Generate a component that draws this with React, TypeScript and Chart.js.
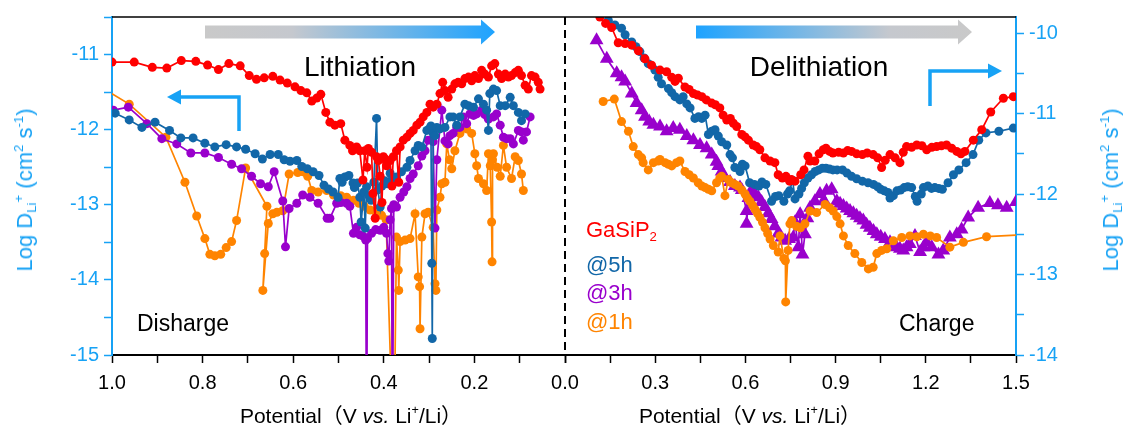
import React, { useEffect, useRef } from 'react';
import { Chart, registerables } from 'chart.js';

Chart.register(...registerables);

// ---------------- DATA (potential V, log D) ----------------
// Discharge (lithiation) panel
const dischargeGaSiP2: [number, number][] = [
  [1.0, -11.1], [0.951, -11.1], [0.911, -11.17], [0.879, -11.18], [0.847, -11.08], [0.815, -11.09], [0.789, -11.14],
  [0.765, -11.2], [0.742, -11.12], [0.717, -11.15], [0.697, -11.28], [0.681, -11.33], [0.664, -11.31], [0.645, -11.29],
  [0.629, -11.34], [0.613, -11.38], [0.596, -11.43], [0.583, -11.48], [0.57, -11.51], [0.559, -11.62], [0.548, -11.58],
  [0.539, -11.53], [0.528, -11.77], [0.519, -11.9], [0.508, -11.94], [0.495, -11.92], [0.486, -12.14], [0.475, -12.21],
  [0.469, -12.28], [0.46, -12.23], [0.453, -12.28], [0.446, -12.67], [0.442, -12.28], [0.437, -12.5], [0.434, -12.25],
  [0.427, -12.3], [0.424, -12.85], [0.419, -13.18], [0.416, -12.36], [0.412, -12.41], [0.408, -12.62], [0.404, -12.97],
  [0.401, -12.36], [0.397, -12.39], [0.394, -12.48], [0.386, -12.41], [0.382, -12.75], [0.379, -12.36], [0.372, -12.28],
  [0.367, -12.7], [0.364, -12.23], [0.357, -12.14], [0.349, -12.1], [0.342, -12.05], [0.335, -12.01], [0.327, -11.94],
  [0.32, -11.9], [0.313, -11.83], [0.305, -11.77], [0.298, -11.66], [0.291, -11.7], [0.283, -11.66], [0.276, -11.52],
  [0.27, -11.37], [0.265, -11.48], [0.258, -11.57], [0.25, -11.46], [0.243, -11.39], [0.236, -11.37], [0.228, -11.39],
  [0.221, -11.32], [0.213, -11.3], [0.206, -11.35], [0.199, -11.28], [0.191, -11.32], [0.184, -11.21], [0.177, -11.26],
  [0.169, -11.3], [0.162, -11.15], [0.155, -11.12], [0.147, -11.26], [0.14, -11.32], [0.132, -11.26], [0.125, -11.3],
  [0.118, -11.28], [0.11, -11.24], [0.103, -11.21], [0.096, -11.28], [0.088, -11.41], [0.081, -11.46], [0.074, -11.28],
  [0.066, -11.3], [0.059, -11.37], [0.055, -11.46],
];
const discharge5h: [number, number][] = [
  [0.993, -11.78], [0.962, -11.87], [0.934, -11.97], [0.905, -11.9], [0.873, -12.01], [0.848, -12.11], [0.821, -12.11],
  [0.795, -12.18], [0.773, -12.23], [0.748, -12.2], [0.725, -12.23], [0.705, -12.26], [0.684, -12.32], [0.668, -12.39],
  [0.651, -12.33], [0.633, -12.33], [0.62, -12.4], [0.607, -12.42], [0.592, -12.41], [0.581, -12.49], [0.569, -12.52],
  [0.556, -12.56], [0.543, -12.61], [0.532, -12.74], [0.522, -12.79], [0.512, -12.83], [0.501, -12.9], [0.497, -12.65],
  [0.492, -12.7], [0.486, -12.63], [0.477, -12.61], [0.468, -12.71], [0.465, -12.77], [0.458, -12.71], [0.453, -12.9],
  [0.45, -13.23], [0.444, -12.83], [0.441, -13.31], [0.438, -12.76], [0.433, -12.88], [0.428, -12.94], [0.422, -12.7],
  [0.416, -11.85], [0.413, -12.8], [0.408, -13.03], [0.404, -12.75], [0.398, -12.68], [0.392, -12.72], [0.386, -12.58],
  [0.38, -12.66], [0.372, -12.63], [0.361, -12.56], [0.349, -12.5], [0.342, -12.41], [0.331, -12.28], [0.324, -12.21],
  [0.316, -12.23], [0.305, -12.01], [0.3, -11.99], [0.296, -11.95], [0.294, -13.78], [0.293, -14.78], [0.291, -12.05],
  [0.287, -12.08], [0.283, -11.97], [0.276, -11.99], [0.265, -11.97], [0.254, -11.83], [0.247, -11.83], [0.239, -11.94],
  [0.232, -11.83], [0.221, -11.66], [0.213, -11.68], [0.202, -11.7], [0.191, -11.59], [0.18, -11.66], [0.173, -11.74],
  [0.169, -12.01], [0.166, -11.52], [0.158, -11.46], [0.151, -11.48], [0.143, -11.68], [0.132, -11.68], [0.121, -11.57],
  [0.114, -11.68], [0.103, -11.77], [0.096, -11.88], [0.088, -11.79],
];
const discharge3h: [number, number][] = [
  [0.997, -11.74], [0.964, -11.7], [0.923, -11.92], [0.89, -12.12], [0.857, -12.19], [0.826, -12.31], [0.795, -12.31],
  [0.765, -12.37], [0.736, -12.46], [0.714, -12.52], [0.692, -12.62], [0.672, -12.72], [0.655, -12.76], [0.642, -12.56],
  [0.623, -12.95], [0.617, -13.56], [0.609, -13.05], [0.592, -12.98], [0.579, -12.87], [0.563, -12.9], [0.545, -12.98],
  [0.525, -13.18], [0.519, -13.18], [0.504, -12.98], [0.495, -12.97], [0.482, -12.98], [0.475, -13.02], [0.467, -13.38],
  [0.46, -13.3], [0.453, -13.4], [0.445, -13.42], [0.44, -13.47], [0.438, -16.5], [0.436, -13.45], [0.427, -13.38],
  [0.418, -13.33], [0.408, -13.34], [0.4, -13.3], [0.394, -13.38], [0.391, -13.65], [0.389, -13.75], [0.386, -13.2],
  [0.383, -13.05], [0.381, -16.5], [0.378, -13.0], [0.372, -13.03], [0.364, -12.9], [0.356, -12.83], [0.349, -12.76],
  [0.342, -12.65], [0.335, -12.59], [0.324, -12.48], [0.316, -12.35], [0.309, -12.28], [0.302, -12.14], [0.291, -12.16],
  [0.287, -13.31], [0.283, -12.4], [0.272, -11.74], [0.265, -12.15], [0.258, -12.19], [0.254, -12.08], [0.247, -12.05],
  [0.239, -11.97], [0.232, -11.97], [0.225, -11.83], [0.217, -11.92], [0.21, -11.79], [0.202, -11.81], [0.195, -11.79],
  [0.184, -11.74], [0.177, -11.8], [0.169, -11.86], [0.158, -11.83], [0.151, -11.79], [0.143, -11.94], [0.136, -12.1],
  [0.129, -12.12], [0.121, -12.12], [0.114, -12.19], [0.103, -12.01], [0.096, -12.03], [0.092, -12.14], [0.085, -12.03],
  [0.077, -11.83],
];
const discharge1h: [number, number][] = [
  [1.02, -11.45], [0.962, -11.66], [0.881, -12.1], [0.839, -12.7], [0.813, -13.15], [0.795, -13.45], [0.784, -13.66],
  [0.773, -13.68], [0.76, -13.66], [0.748, -13.57], [0.736, -13.49], [0.725, -13.21], [0.705, -12.51], [0.658, -13.02],
  [0.663, -13.65], [0.667, -14.14], [0.655, -13.25], [0.645, -13.12], [0.636, -13.1], [0.623, -13.08], [0.609, -12.59],
  [0.59, -12.57], [0.578, -12.56], [0.568, -12.62], [0.559, -12.81], [0.545, -12.83], [0.526, -12.81], [0.511, -12.87],
  [0.495, -12.88], [0.482, -12.9], [0.467, -12.94], [0.455, -12.98], [0.443, -13.02], [0.43, -13.07], [0.416, -13.12],
  [0.405, -13.14], [0.395, -13.2], [0.378, -16.5], [0.372, -13.43], [0.368, -13.87], [0.367, -14.14], [0.364, -13.49],
  [0.353, -13.47], [0.342, -13.45], [0.331, -13.12], [0.324, -13.96], [0.321, -14.09], [0.32, -14.65], [0.316, -13.43],
  [0.309, -13.12], [0.302, -13.1], [0.291, -13.3], [0.287, -14.05], [0.285, -14.14], [0.283, -13.07], [0.276, -12.9],
  [0.272, -12.72], [0.265, -12.7], [0.261, -12.19], [0.255, -12.4], [0.25, -12.52], [0.243, -12.28], [0.232, -12.05],
  [0.225, -11.98], [0.217, -11.99], [0.206, -12.05], [0.199, -12.32], [0.195, -12.48], [0.191, -12.65], [0.18, -12.72],
  [0.173, -12.81], [0.169, -12.32], [0.165, -12.48], [0.162, -13.23], [0.161, -13.76], [0.16, -12.4], [0.158, -12.32],
  [0.15, -12.5], [0.143, -12.62], [0.136, -12.21], [0.129, -12.5], [0.118, -12.65], [0.11, -12.36], [0.103, -12.41],
  [0.096, -12.59], [0.092, -12.81],
];

// Charge (delithiation) panel
const chargeGaSiP2: [number, number][] = [
  [0.095, -9.7], [0.116, -9.8], [0.135, -9.88], [0.155, -9.93], [0.177, -10.12], [0.2, -10.13], [0.222, -10.15],
  [0.244, -10.22], [0.266, -10.32], [0.288, -10.4], [0.316, -10.46], [0.338, -10.48], [0.355, -10.55], [0.366, -10.6],
  [0.377, -10.56], [0.399, -10.67], [0.413, -10.7], [0.427, -10.75], [0.441, -10.77], [0.455, -10.79], [0.47, -10.83],
  [0.488, -10.87], [0.5, -10.89], [0.515, -10.93], [0.526, -11.02], [0.538, -11.08], [0.55, -11.06], [0.56, -11.12],
  [0.571, -11.16], [0.588, -11.26], [0.599, -11.29], [0.61, -11.33], [0.626, -11.39], [0.637, -11.41], [0.648, -11.45],
  [0.665, -11.55], [0.682, -11.59], [0.698, -11.61], [0.709, -11.76], [0.723, -11.8], [0.735, -11.78], [0.747, -11.84],
  [0.753, -11.82], [0.765, -11.84], [0.784, -11.76], [0.795, -11.7], [0.808, -11.53], [0.815, -11.59], [0.831, -11.59],
  [0.845, -11.5], [0.859, -11.45], [0.868, -11.43], [0.88, -11.47], [0.891, -11.49], [0.91, -11.48], [0.926, -11.49],
  [0.94, -11.46], [0.953, -11.47], [0.97, -11.5], [0.989, -11.51], [1.005, -11.49], [1.025, -11.51], [1.04, -11.55],
  [1.053, -11.67], [1.065, -11.58], [1.081, -11.51], [1.098, -11.55], [1.114, -11.61], [1.125, -11.48], [1.136, -11.41],
  [1.153, -11.42], [1.17, -11.39], [1.187, -11.4], [1.203, -11.45], [1.22, -11.42], [1.236, -11.41], [1.252, -11.4],
  [1.269, -11.39], [1.286, -11.43], [1.303, -11.47], [1.317, -11.5], [1.33, -11.47], [1.358, -11.33], [1.386, -11.2],
  [1.416, -10.98], [1.458, -10.81], [1.491, -10.79], [1.53, -10.72],
];
const charge5h: [number, number][] = [
  [0.12, -9.72], [0.144, -9.84], [0.166, -9.9], [0.188, -9.94], [0.2, -10.02], [0.222, -10.11], [0.236, -10.17],
  [0.249, -10.23], [0.263, -10.31], [0.277, -10.38], [0.299, -10.46], [0.31, -10.55], [0.321, -10.63], [0.344, -10.69],
  [0.355, -10.74], [0.366, -10.79], [0.382, -10.83], [0.393, -10.79], [0.405, -10.88], [0.416, -10.93], [0.432, -11.06],
  [0.444, -11.04], [0.455, -11.06], [0.466, -11.02], [0.477, -11.26], [0.488, -11.22], [0.499, -11.2], [0.51, -11.28],
  [0.521, -11.35], [0.538, -11.39], [0.549, -11.51], [0.557, -11.55], [0.565, -11.67], [0.582, -11.72], [0.59, -11.63],
  [0.599, -11.65], [0.614, -11.86], [0.63, -11.88], [0.645, -11.9], [0.655, -11.85], [0.668, -11.88], [0.687, -12.09],
  [0.7, -12.03], [0.711, -12.02], [0.728, -12.09], [0.74, -12.0], [0.747, -11.96], [0.757, -11.83], [0.765, -12.06],
  [0.778, -12.0], [0.787, -11.93], [0.796, -11.86], [0.808, -11.8], [0.82, -11.76], [0.832, -11.72], [0.844, -11.7],
  [0.856, -11.68], [0.868, -11.68], [0.88, -11.69], [0.891, -11.7], [0.905, -11.7], [0.923, -11.7], [0.938, -11.74],
  [0.953, -11.78], [0.97, -11.81], [0.989, -11.84], [1.008, -11.86], [1.026, -11.88], [1.04, -11.91], [1.05, -11.94],
  [1.062, -11.96], [1.074, -11.98], [1.081, -12.05], [1.092, -12.02], [1.104, -11.96], [1.116, -11.95], [1.128, -11.92],
  [1.14, -11.91], [1.153, -11.92], [1.165, -12.03], [1.171, -12.09], [1.185, -12.0], [1.192, -11.92], [1.207, -11.9],
  [1.219, -11.93], [1.23, -11.92], [1.243, -11.93], [1.255, -11.94], [1.274, -11.86], [1.292, -11.76], [1.31, -11.7],
  [1.334, -11.61], [1.357, -11.51], [1.376, -11.33], [1.4, -11.24], [1.443, -11.22], [1.491, -11.18], [1.53, -11.15],
];
const charge3h: [number, number][] = [
  [0.105, -10.09], [0.139, -10.32], [0.172, -10.5], [0.188, -10.55], [0.2, -10.6], [0.222, -10.75], [0.238, -10.87],
  [0.255, -10.96], [0.266, -11.04], [0.28, -11.1], [0.294, -11.14], [0.316, -11.16], [0.338, -11.22], [0.36, -11.18],
  [0.382, -11.2], [0.405, -11.28], [0.427, -11.33], [0.449, -11.39], [0.471, -11.43], [0.488, -11.51], [0.504, -11.6],
  [0.51, -11.65], [0.521, -11.72], [0.532, -11.8], [0.549, -11.85], [0.565, -11.9], [0.582, -11.92], [0.588, -11.95],
  [0.604, -12.21], [0.604, -12.37], [0.61, -12.05], [0.621, -11.95], [0.632, -12.0], [0.643, -12.04], [0.654, -12.1],
  [0.665, -12.16], [0.676, -12.24], [0.687, -12.31], [0.698, -12.4], [0.709, -12.49], [0.72, -12.54], [0.732, -12.58],
  [0.745, -12.56], [0.759, -12.54], [0.765, -12.35], [0.776, -12.66], [0.782, -12.25], [0.79, -12.75], [0.798, -12.5],
  [0.806, -12.3], [0.815, -12.17], [0.831, -12.09], [0.848, -12.0], [0.861, -12.08], [0.87, -11.96], [0.887, -11.94],
  [0.904, -12.09], [0.915, -12.12], [0.926, -12.15], [0.937, -12.18], [0.948, -12.21], [0.959, -12.24], [0.97, -12.27],
  [0.981, -12.3], [0.992, -12.33], [1.003, -12.38], [1.014, -12.42], [1.026, -12.46], [1.037, -12.5], [1.05, -12.53],
  [1.064, -12.56], [1.081, -12.6], [1.092, -12.63], [1.103, -12.66], [1.114, -12.68], [1.125, -12.7], [1.136, -12.66],
  [1.147, -12.62], [1.164, -12.52], [1.181, -12.72], [1.192, -12.66], [1.203, -12.6], [1.22, -12.66], [1.242, -12.75],
  [1.258, -12.7], [1.28, -12.54], [1.303, -12.5], [1.319, -12.44], [1.341, -12.29], [1.374, -12.17], [1.413, -12.11],
  [1.44, -12.14], [1.469, -12.17], [1.5, -12.1],
];
const charge1h: [number, number][] = [
  [0.127, -10.85], [0.164, -10.82], [0.188, -11.1], [0.211, -11.22], [0.227, -11.41], [0.244, -11.51], [0.255, -11.55],
  [0.26, -11.61], [0.277, -11.7], [0.294, -11.61], [0.31, -11.59], [0.316, -11.57], [0.333, -11.61], [0.344, -11.63],
  [0.355, -11.65], [0.371, -11.61], [0.382, -11.59], [0.399, -11.72], [0.413, -11.76], [0.427, -11.8], [0.443, -11.86],
  [0.455, -11.9], [0.466, -11.92], [0.477, -11.94], [0.488, -11.96], [0.504, -11.86], [0.515, -11.8], [0.521, -11.78],
  [0.532, -12.02], [0.543, -11.82], [0.554, -11.86], [0.565, -11.88], [0.576, -11.9], [0.588, -11.95], [0.599, -12.0],
  [0.607, -12.05], [0.615, -12.09], [0.624, -12.14], [0.632, -12.19], [0.64, -12.24], [0.648, -12.29], [0.657, -12.35],
  [0.665, -12.42], [0.674, -12.49], [0.682, -12.56], [0.693, -12.64], [0.709, -12.72], [0.715, -12.52], [0.728, -12.8],
  [0.733, -12.83], [0.734, -13.34], [0.742, -12.7], [0.748, -12.37], [0.754, -12.33], [0.77, -12.4], [0.783, -12.42],
  [0.798, -12.37], [0.815, -12.21], [0.837, -12.23], [0.865, -12.13], [0.88, -12.17], [0.892, -12.21], [0.904, -12.28],
  [0.915, -12.37], [0.926, -12.52], [0.942, -12.64], [0.964, -12.74], [0.987, -12.85], [1.009, -12.93], [1.025, -12.91],
  [1.037, -12.74], [1.053, -12.7], [1.07, -12.68], [1.092, -12.58], [1.12, -12.54], [1.147, -12.52], [1.17, -12.53],
  [1.192, -12.5], [1.215, -12.52], [1.236, -12.54], [1.28, -12.66], [1.325, -12.6], [1.402, -12.53], [1.55, -12.5],
];

// Axis ranges / ticks
const dischargeXRange = [0, 1.0];
const chargeXRange = [0, 1.5];
const dischargeYRange = [-15, -10.5];
const chargeYRange = [-14, -9.8];
const chargeYTicks = [-14, -13.5, -13, -12.5, -12, -11.5, -11, -10.5, -10];

const legendLabels = ['GaSiP', '@5h', '@3h', '@1h'];

// ---------------- STYLE ----------------
const W = 1127;
const H = 430;
const PLOT_TOP = 16;
const PLOT_BOTTOM = 355;
const LEFT_EDGE = 112;
const MID_X = 565;
const RIGHT_EDGE = 1016;

const RED = '#ff0000';
const BLUE = '#1267a8';
const PURPLE = '#9900cc';
const ORANGE = '#ff8400';
const AXIS_BLUE = '#17a2f5';
const FONT = 'Arial, "Liberation Sans", "Noto Sans CJK SC", sans-serif';

function series(pts: [number, number][], color: string, style: string = 'circle', radius: number = 4.5) {
  return {
    data: pts.map(([x, y]) => ({ x, y })),
    showLine: true,
    borderColor: color,
    backgroundColor: color,
    pointBackgroundColor: color,
    pointBorderColor: color,
    pointBorderWidth: 0,
    pointRadius: radius,
    pointHoverRadius: radius,
    pointStyle: style,
    borderWidth: 1.7,
    tension: 0,
    clip: 0,
  };
}

function gradArrow(ctx: CanvasRenderingContext2D, x0: number, x1: number, yc: number, stops: [number, string][]) {
  const barH = 6.5;
  const headH = 12.5;
  const headL = 14;
  const g = ctx.createLinearGradient(x0, 0, x1, 0);
  stops.forEach(([p, c]) => g.addColorStop(p, c));
  ctx.save();
  ctx.fillStyle = g;
  ctx.beginPath();
  ctx.moveTo(x0, yc - barH);
  ctx.lineTo(x1 - headL, yc - barH);
  ctx.lineTo(x1 - headL, yc - headH);
  ctx.lineTo(x1, yc);
  ctx.lineTo(x1 - headL, yc + headH);
  ctx.lineTo(x1 - headL, yc + barH);
  ctx.lineTo(x0, yc + barH);
  ctx.closePath();
  ctx.fill();
  ctx.restore();
}

function bentArrow(ctx: CanvasRenderingContext2D, pts: number[][], tip: number[], base: number) {
  ctx.save();
  ctx.strokeStyle = AXIS_BLUE;
  ctx.fillStyle = AXIS_BLUE;
  ctx.lineWidth = 3.5;
  ctx.lineJoin = 'miter';
  ctx.beginPath();
  ctx.moveTo(pts[0][0], pts[0][1]);
  for (let i = 1; i < pts.length; i++) ctx.lineTo(pts[i][0], pts[i][1]);
  ctx.stroke();
  ctx.beginPath();
  ctx.moveTo(tip[0], tip[1]);
  ctx.lineTo(base, tip[1] - 7.5);
  ctx.lineTo(base, tip[1] + 7.5);
  ctx.closePath();
  ctx.fill();
  ctx.restore();
}

const leftDecor = {
  id: 'leftDecor',
  beforeDatasetsDraw(chart: any) {
    const ctx = chart.ctx as CanvasRenderingContext2D;
    gradArrow(ctx, 205, 495, 32, [[0, '#c9c9c9'], [0.3, '#c5c8ce'], [1, '#1ea3ff']]);
    bentArrow(ctx, [[239, 131], [239, 97], [181, 97]], [167, 97], 181);
  },
  afterDraw(chart: any) {
    const ctx = chart.ctx as CanvasRenderingContext2D;
    const a = chart.chartArea;
    ctx.save();
    ctx.strokeStyle = '#000';
    ctx.lineWidth = 1.5;
    ctx.beginPath();
    ctx.moveTo(a.left, a.top);
    ctx.lineTo(a.right, a.top);
    ctx.stroke();
    ctx.lineWidth = 2;
    ctx.setLineDash([8, 5]);
    ctx.beginPath();
    ctx.moveTo(a.right, a.top);
    ctx.lineTo(a.right, a.bottom);
    ctx.stroke();
    ctx.restore();
  },
};

const rightDecor = {
  id: 'rightDecor',
  beforeDatasetsDraw(chart: any) {
    const ctx = chart.ctx as CanvasRenderingContext2D;
    gradArrow(ctx, 696, 972, 32, [[0, '#1ea3ff'], [0.7, '#c5c8ce'], [1, '#c9c9c9']]);
    bentArrow(ctx, [[930, 106], [930, 71], [988, 71]], [1002, 71], 988);
  },
  afterDraw(chart: any) {
    const ctx = chart.ctx as CanvasRenderingContext2D;
    const a = chart.chartArea;
    ctx.save();
    ctx.strokeStyle = '#000';
    ctx.lineWidth = 1.5;
    ctx.beginPath();
    ctx.moveTo(a.left, a.top);
    ctx.lineTo(a.right, a.top);
    ctx.stroke();
    ctx.restore();
  },
};

const tickFont = { family: FONT, size: 20 };

function xAxis(range: number[], step: number, reverse: boolean, label: (v: number) => string) {
  return {
    type: 'linear',
    min: range[0],
    max: range[1],
    reverse,
    afterFit: (s: any) => {
      s.height = H - PLOT_BOTTOM;
    },
    ticks: {
      stepSize: step,
      autoSkip: false,
      maxRotation: 0,
      minRotation: 0,
      color: '#000',
      font: tickFont,
      padding: 8,
      callback: (v: any) => label(Number(v)),
    },
    grid: { drawOnChartArea: false, drawTicks: true, tickLength: 8, tickColor: '#000', tickWidth: 1.5 },
    border: { color: '#000', width: 2 },
  };
}

function yAxis(range: number[], position: string, width: number, padding: number, ticks?: number[]) {
  const axis: any = {
    type: 'linear',
    position,
    min: range[0],
    max: range[1],
    afterFit: (s: any) => {
      s.width = width;
    },
    ticks: {
      stepSize: 0.5,
      color: AXIS_BLUE,
      font: tickFont,
      padding,
      autoSkip: false,
      callback: (v: any) => {
        const n = Number(v);
        return Math.abs(n - Math.round(n)) < 1e-6 ? String(Math.round(n)) : '';
      },
    },
    grid: { drawOnChartArea: false, drawTicks: true, tickLength: 8, tickColor: AXIS_BLUE, tickWidth: 1.5 },
    border: { color: AXIS_BLUE, width: 2 },
  };
  if (ticks) {
    axis.afterBuildTicks = (s: any) => {
      s.ticks = ticks.map((value) => ({ value }));
    };
  }
  return axis;
}

function leftConfig(): any {
  return {
    type: 'scatter',
    data: {
      datasets: [
        series(dischargeGaSiP2, RED),
        series(discharge5h, BLUE),
        series(discharge3h, PURPLE),
        series(discharge1h, ORANGE),
      ],
    },
    options: {
      animation: false,
      responsive: false,
      maintainAspectRatio: false,
      events: [],
      layout: { padding: { left: 0, right: W - MID_X, top: PLOT_TOP, bottom: 0 } },
      plugins: { legend: { display: false }, tooltip: { enabled: false } },
      scales: {
        x: xAxis(dischargeXRange, 0.1, true, (v) => {
          const k = Math.round(v * 10);
          return k % 2 === 0 ? (k / 10).toFixed(1) : '';
        }),
        y: yAxis(dischargeYRange, 'left', LEFT_EDGE, 5),
      },
    },
    plugins: [leftDecor],
  };
}

function rightConfig(): any {
  return {
    type: 'scatter',
    data: {
      datasets: [
        series(chargeGaSiP2, RED),
        series(charge5h, BLUE),
        series(charge1h, ORANGE),
        series(charge3h, PURPLE, 'triangle', 8),
      ],
    },
    options: {
      animation: false,
      responsive: false,
      maintainAspectRatio: false,
      events: [],
      layout: { padding: { left: MID_X, right: 0, top: PLOT_TOP, bottom: 0 } },
      plugins: { legend: { display: false }, tooltip: { enabled: false } },
      scales: {
        x: xAxis(chargeXRange, 0.15, false, (v) => {
          const k = Math.round(v * 100);
          return k > 0 && k % 30 === 0 ? (k / 100).toFixed(1) : '';
        }),
        y: yAxis(chargeYRange, 'right', W - RIGHT_EDGE, 5, chargeYTicks),
      },
    },
    plugins: [rightDecor],
  };
}

const abs = (left: number, top: number, extra: React.CSSProperties = {}): React.CSSProperties => ({
  position: 'absolute',
  left,
  top,
  whiteSpace: 'nowrap',
  fontFamily: FONT,
  lineHeight: 1,
  ...extra,
});

const supS: React.CSSProperties = { fontSize: '0.6em', verticalAlign: '0.7em', lineHeight: 0 };
const subS: React.CSSProperties = { fontSize: '0.6em', verticalAlign: '-0.3em', lineHeight: 0 };

function YTitle({ x, y }: { x: number; y: number }) {
  return (
    <div style={abs(x, y, { fontSize: 22, color: AXIS_BLUE, transform: 'translate(-50%,-50%) rotate(-90deg)' })}>
      Log D<span style={subS}>Li</span>
      <span style={supS}>+</span> (cm<span style={supS}>2</span> s<span style={supS}>-1</span>)
    </div>
  );
}

function XTitle({ x }: { x: number }) {
  return (
    <div style={abs(x, 415, { fontSize: 21, color: '#000', transform: 'translate(-50%,-50%)' })}>
      Potential（V <i>vs.</i> Li<span style={supS}>+</span>/Li）
    </div>
  );
}

export default function App() {
  const leftRef = useRef<HTMLCanvasElement>(null);
  const rightRef = useRef<HTMLCanvasElement>(null);

  useEffect(() => {
    const l = new Chart(leftRef.current as HTMLCanvasElement, leftConfig());
    const r = new Chart(rightRef.current as HTMLCanvasElement, rightConfig());
    return () => {
      l.destroy();
      r.destroy();
    };
  }, []);

  const legendColors = [RED, BLUE, PURPLE, ORANGE];
  const legendY = [230, 265, 293, 322];

  return (
    <div style={{ position: 'absolute', left: 0, top: 0, width: W, height: H, background: '#fff', overflow: 'hidden' }}>
      <canvas ref={leftRef} width={W} height={H} style={{ position: 'absolute', left: 0, top: 0 }} />
      <canvas ref={rightRef} width={W} height={H} style={{ position: 'absolute', left: 0, top: 0 }} />

      <div style={abs(360, 67, { fontSize: 28, color: '#000', transform: 'translate(-50%,-50%)' })}>Lithiation</div>
      <div style={abs(819, 67, { fontSize: 28, color: '#000', transform: 'translate(-50%,-50%)' })}>Delithiation</div>
      <div style={abs(137, 323, { fontSize: 23, color: '#000', transform: 'translateY(-50%)' })}>Disharge</div>
      <div style={abs(899, 323, { fontSize: 23, color: '#000', transform: 'translateY(-50%)' })}>Charge</div>

      {legendLabels.map((t, i) => (
        <div key={t} style={abs(586, legendY[i], { fontSize: 22, color: legendColors[i], transform: 'translateY(-50%)' })}>
          {t}
          {i === 0 ? <span style={subS}>2</span> : null}
        </div>
      ))}

      <XTitle x={351} />
      <XTitle x={750} />
      <YTitle x={25} y={190} />
      <YTitle x={1111} y={190} />
    </div>
  );
}
